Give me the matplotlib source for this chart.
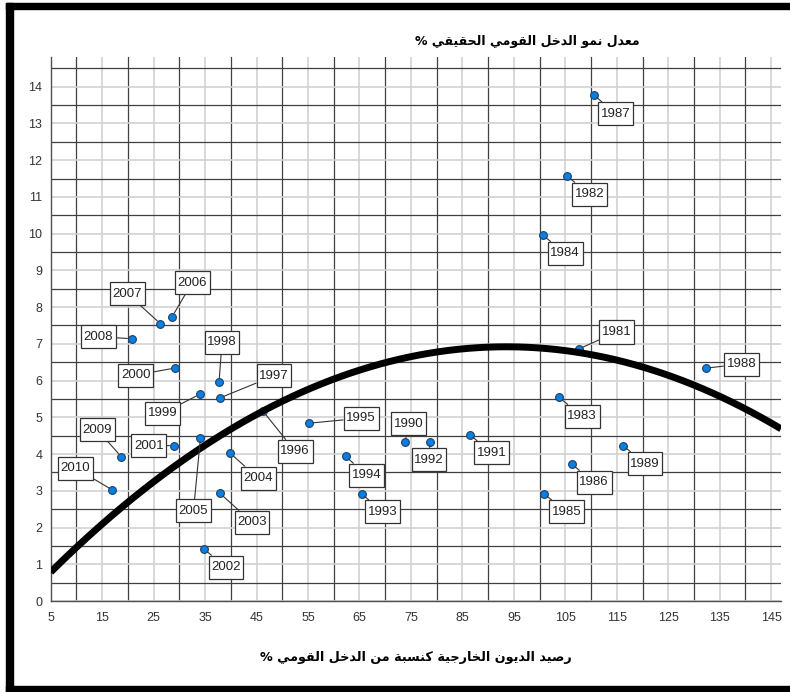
import numpy as np
import matplotlib.pyplot as plt
from matplotlib.patches import Rectangle
from matplotlib.path import Path
from matplotlib.ticker import MultipleLocator, FixedLocator

plt.rcParams['font.family'] = ['Liberation Sans', 'DejaVu Sans']

years = [1981, 1982, 1983, 1984, 1985, 1986, 1987, 1988, 1989, 1990,
         1991, 1992, 1993, 1994, 1995, 1996, 1997, 1998, 1999, 2000,
         2001, 2002, 2003, 2004, 2005, 2006, 2007, 2008, 2009, 2010]
debt_ratio = [107.6, 105.4, 103.8, 100.7, 100.8, 106.3, 110.5, 132.4, 116.2, 73.9,
              86.4, 78.7, 65.4, 62.3, 55.2, 46.3, 37.9, 37.7, 34.0, 29.1,
              28.9, 34.8, 37.9, 39.9, 34.1, 28.6, 26.3, 20.7, 18.7, 17.0]
growth_rate = [6.86, 11.56, 5.54, 9.95, 2.92, 3.72, 13.78, 6.34, 4.23, 4.34,
               4.53, 4.34, 2.92, 3.94, 4.84, 5.16, 5.53, 5.95, 5.63, 6.34,
               4.23, 1.41, 2.93, 4.02, 4.44, 7.74, 7.55, 7.14, 3.93, 3.02]

# quadratic fit: growth = c0 + c1*d + c2*d^2
fit_coef = [0.0748, 0.14642, -0.000783]

title_text = 'معدل نمو الدخل القومي الحقيقي %'
xlabel_text = 'رصيد الديون الخارجية كنسبة من الدخل القومي %'

# label box offsets from each point, in pixels (dx right, dy down)
label_offsets = {
    1981: (38, -17), 1982: (22, 18), 1983: (23, 19), 1984: (22, 18),
    1985: (23, 18), 1986: (22, 18), 1987: (22, 19), 1988: (35, -4),
    1989: (22, 18), 1990: (3, -18), 1991: (22, 18), 1992: (-1, 18),
    1993: (21, 18), 1994: (21, 19), 1995: (52, -5), 1996: (32, 40),
    1997: (54, -22), 1998: (3, -40), 1999: (-37, 19), 2000: (-39, 7),
    2001: (-25, 0), 2002: (22, 18), 2003: (32, 29), 2004: (28, 25),
    2005: (-7, 73), 2006: (20, -34), 2007: (-33, -30), 2008: (-33, -2),
    2009: (-24, -27), 2010: (-37, -22),
}

# presentation forms: (isolated codepoint, joins to the following letter)
ARABIC_FORMS = {
    'ا': (0xFE8D, False), 'ب': (0xFE8F, True), 'ة': (0xFE93, False),
    'ج': (0xFE9D, True), 'ح': (0xFEA1, True), 'خ': (0xFEA5, True),
    'د': (0xFEA9, False), 'ر': (0xFEAD, False), 'س': (0xFEB1, True),
    'ص': (0xFEB9, True), 'ع': (0xFEC9, True), 'ق': (0xFED5, True),
    'ك': (0xFED9, True), 'ل': (0xFEDD, True), 'م': (0xFEE1, True),
    'ن': (0xFEE5, True), 'و': (0xFEED, False), 'ي': (0xFEF1, True),
}


def shape_arabic(text):
    out = []
    for i, ch in enumerate(text):
        if ch not in ARABIC_FORMS:
            out.append(ch)
            continue
        base, dual = ARABIC_FORMS[ch]
        prev = text[i - 1] if i > 0 else ''
        nxt = text[i + 1] if i + 1 < len(text) else ''
        join_prev = prev in ARABIC_FORMS and ARABIC_FORMS[prev][1]
        join_next = dual and nxt in ARABIC_FORMS
        if join_prev and join_next:
            code = base + 3
        elif join_prev:
            code = base + 1
        elif join_next:
            code = base + 2
        else:
            code = base
        out.append(chr(code))
    return ''.join(reversed(out))


def label_box(x0, y0, width, height, mutation_size):
    # plain rectangle, padded more top/bottom than left/right
    px, py = 0.2 * mutation_size, 0.42 * mutation_size
    x0, y0 = x0 - px, y0 - py
    x1, y1 = x0 + width + 2 * px, y0 + height + 2 * py
    return Path([(x0, y0), (x1, y0), (x1, y1), (x0, y1), (x0, y0)], closed=True)


fig = plt.figure(figsize=(7.9, 6.92), dpi=100)
ax = fig.add_axes([50.7 / 790, 1 - 601 / 692, 730.3 / 790, 543.7 / 692])

ax.set_xlim(5, 146.9)
ax.set_ylim(0, 14.8)

ax.xaxis.set_major_locator(MultipleLocator(10, offset=5))
ax.xaxis.set_minor_locator(FixedLocator(np.arange(10, 145, 10)))
ax.yaxis.set_major_locator(MultipleLocator(1))
ax.yaxis.set_minor_locator(FixedLocator(np.arange(0.5, 15, 1)))

ax.grid(which='major', color='#d2d2d2', lw=1.2, zorder=0)
ax.grid(which='minor', color='#404040', lw=0.9, zorder=0)
ax.set_axisbelow(True)

ax.tick_params(which='both', length=0, labelsize=9, colors='#333333')
ax.tick_params(axis='x', pad=8)
ax.tick_params(axis='y', pad=6)

for side in ('top', 'right'):
    ax.spines[side].set_visible(False)
for side in ('left', 'bottom'):
    ax.spines[side].set_color('#505050')
    ax.spines[side].set_linewidth(1.0)

xs = np.linspace(5, 146.9, 300)
ax.plot(xs, np.polyval(fit_coef[::-1], xs), color='black', lw=5,
        solid_capstyle='butt', zorder=4)

ax.plot(debt_ratio, growth_rate, 'o', ms=5.6, mfc='#0a7fe2', mec='#1d3f66',
        mew=0.8, zorder=3, clip_on=False)

for yr, xv, yv in zip(years, debt_ratio, growth_rate):
    dx, dy = label_offsets[yr]
    ax.annotate(str(yr), (xv, yv), xytext=(dx, -dy), textcoords='offset pixels',
                ha='center', va='center', fontsize=9.5, color='#222222', zorder=5,
                bbox=dict(boxstyle=label_box, fc='white', ec='#333333', lw=0.9),
                arrowprops=dict(arrowstyle='-', color='#333333', lw=0.8,
                                shrinkA=0, shrinkB=3))

fig.text(527 / 790, 1 - 42 / 692, shape_arabic(title_text), ha='center', va='center',
         fontsize=9, fontweight='bold', family='DejaVu Sans')
fig.text(416 / 790, 1 - 657 / 692, shape_arabic(xlabel_text), ha='center', va='center',
         fontsize=9.2, fontweight='bold', family='DejaVu Sans')

# thick frame round the picture
fig.patches.extend([
    Rectangle((6 / 790, 0), 7 / 790, 689 / 692, transform=fig.transFigure,
              color='black', zorder=10),
    Rectangle((6 / 790, 1 - 9.3 / 692), 784 / 790, 6.6 / 692, transform=fig.transFigure,
              color='black', zorder=10),
    Rectangle((6 / 790, 0), 784 / 790, 6 / 692, transform=fig.transFigure,
              color='black', zorder=10),
])

fig.savefig('out.png', dpi=100)
